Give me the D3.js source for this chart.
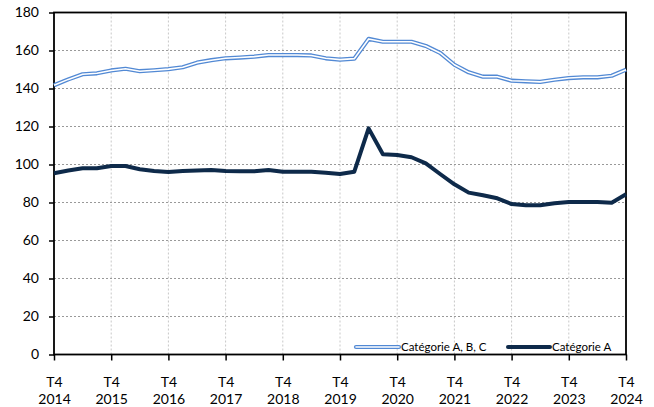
<!DOCTYPE html>
<html>
<head>
<meta charset="utf-8">
<script src="https://cdn.jsdelivr.net/npm/d3@7"></script>
<style>
  body { margin: 0; background: #fff; }
  .chart text { font-family: Lato, "Open Sans", sans-serif; fill: #000; }
</style>
</head>
<body>
<div class="chart"></div>
<script>
//quarters from T4 2014 to T4 2024
var quarters = [];
for (var y = 2014; y <= 2024; y++) {
  for (var q = 1; q <= 4; q++) {
    if ((y === 2014 && q < 4) || (y === 2024 && q > 4)) continue;
    quarters.push("T" + q + " " + y);
  }
}
quarters = quarters.slice(0, 41);

var yTicks = [0, 20, 40, 60, 80, 100, 120, 140, 160, 180];

var seriesNames = ["Catégorie A, B, C", "Catégorie A"];

var catABC = [141.7, 144.8, 147.5, 148, 149.5, 150.4, 149.1, 149.6, 150.2, 151.2,
  153.6, 154.9, 155.9, 156.3, 156.8, 157.6, 157.6, 157.6, 157.4, 155.9,
  155.2, 155.7, 166.1, 164.6, 164.6, 164.6, 162.4, 158.7, 152.5, 148.5,
  146.2, 146.2, 144.1, 143.8, 143.5, 144.6, 145.5, 145.9, 145.9, 146.7,
  149.9];

var catA = [95.4, 96.8, 98, 98, 99.2, 99.2, 97.5, 96.6, 96, 96.6,
  96.9, 97.1, 96.6, 96.4, 96.4, 97.1, 96.2, 96.2, 96.2, 95.7,
  95, 96.2, 119, 105.4, 105, 103.8, 100.6, 95, 89.6, 85.2,
  83.8, 82.2, 79.2, 78.5, 78.5, 79.6, 80.3, 80.3, 80.3, 79.9,
  84.3];

var svgWidth = 654;
var svgHeight = 407;
var margin = { top: 12.5, right: 28, bottom: 52.5, left: 54 };
var chartWidth = svgWidth - margin.left - margin.right;
var chartHeight = svgHeight - margin.top - margin.bottom;

var blue = "#5289d4";
var navy = "#0e2a4a";

var svg = d3.select(".chart").append("svg")
  .attr("width", svgWidth)
  .attr("height", svgHeight);

var chartGroup = svg.append("g")
  .attr("transform", `translate(${margin.left}, ${margin.top})`);

var xScale = d3.scalePoint().domain(quarters).range([0, chartWidth]).padding(0);
var yScale = d3.scaleLinear().domain([0, 180]).range([chartHeight, 0]);

var t4 = quarters.filter(d => d.indexOf("T4") === 0);

/************ grid ************/
chartGroup.selectAll(".vgrid")
  .data(t4.slice(1, -1))
  .enter().append("line")
  .attr("x1", d => xScale(d)).attr("x2", d => xScale(d))
  .attr("y1", 0).attr("y2", chartHeight)
  .attr("stroke", "#c8c8c8").attr("stroke-dasharray", "2,2");

chartGroup.selectAll(".hgrid")
  .data(yTicks.slice(1, -1))
  .enter().append("line")
  .attr("x1", 0).attr("x2", chartWidth)
  .attr("y1", d => yScale(d)).attr("y2", d => yScale(d))
  .attr("stroke", "#999").attr("stroke-dasharray", "2,2");

/************ axes ************/
var yAxis = d3.axisLeft(yScale).tickValues(yTicks).tickSize(5).tickPadding(10);
var gy = chartGroup.append("g").call(yAxis);
gy.select(".domain").remove();
gy.selectAll("line").attr("stroke", "#000").attr("stroke-width", 1.5);
gy.selectAll("text").attr("font-size", 14);

var xAxis = d3.axisBottom(xScale).tickValues(t4).tickSize(6).tickFormat("");
var gx = chartGroup.append("g")
  .attr("transform", `translate(0, ${chartHeight})`)
  .call(xAxis);
gx.select(".domain").remove();
gx.selectAll("line").attr("stroke", "#000").attr("stroke-width", 1.5);

gx.selectAll(".tick").each(function (d) {
  var t = d3.select(this);
  t.append("text").attr("y", 32).attr("text-anchor", "middle")
    .attr("font-size", 14).text("T4");
  t.append("text").attr("y", 49).attr("text-anchor", "middle")
    .attr("font-size", 14).text(d.split(" ")[1]);
});

// frame
chartGroup.append("rect")
  .attr("width", chartWidth).attr("height", chartHeight)
  .attr("fill", "none").attr("stroke", "#000").attr("stroke-width", 1.8);

/************ lines ************/
var line = d3.line()
  .x((d, i) => xScale(quarters[i]))
  .y(d => yScale(d));

chartGroup.append("path").datum(catABC)
  .attr("d", line).attr("fill", "none")
  .attr("stroke", blue).attr("stroke-width", 4.2).attr("stroke-linejoin", "round");
chartGroup.append("path").datum(catABC)
  .attr("d", line).attr("fill", "none")
  .attr("stroke", "#fff").attr("stroke-width", 1.6).attr("stroke-linejoin", "round");

chartGroup.append("path").datum(catA)
  .attr("d", line).attr("fill", "none")
  .attr("stroke", navy).attr("stroke-width", 4).attr("stroke-linejoin", "round");

/************ legend ************/
var legendY = chartHeight - 7.5;
var legend = chartGroup.append("g");

legend.append("line")
  .attr("x1", 302).attr("x2", 345).attr("y1", legendY).attr("y2", legendY)
  .attr("stroke", blue).attr("stroke-width", 4.2).attr("stroke-linecap", "round");
legend.append("line")
  .attr("x1", 302).attr("x2", 345).attr("y1", legendY).attr("y2", legendY)
  .attr("stroke", "#fff").attr("stroke-width", 1.6).attr("stroke-linecap", "round");
legend.append("text")
  .attr("x", 347).attr("y", legendY + 4)
  .attr("font-size", 11.5).text(seriesNames[0]);

legend.append("line")
  .attr("x1", 454).attr("x2", 496).attr("y1", legendY).attr("y2", legendY)
  .attr("stroke", navy).attr("stroke-width", 4).attr("stroke-linecap", "round");
legend.append("text")
  .attr("x", 498).attr("y", legendY + 4)
  .attr("font-size", 11.5).text(seriesNames[1]);
</script>
</body>
</html>
